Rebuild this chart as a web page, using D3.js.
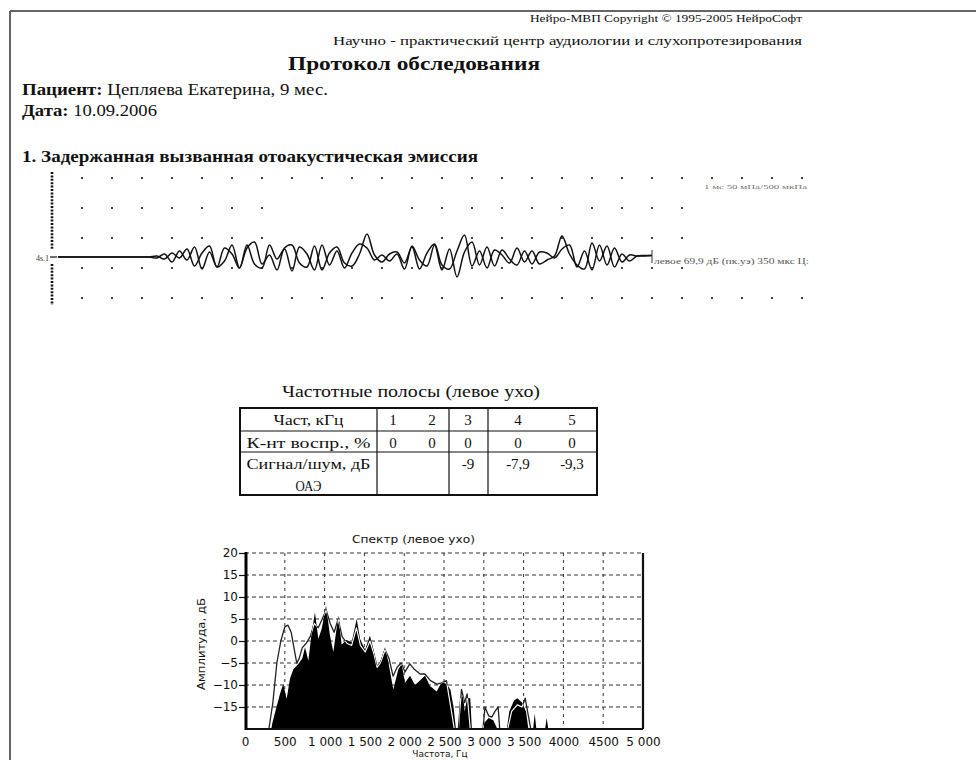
<!DOCTYPE html>
<html><head><meta charset="utf-8">
<script src="https://cdn.jsdelivr.net/npm/d3@7"></script>
<style>html,body{margin:0;padding:0;background:#fff;}svg{display:block}</style>
</head><body>
<svg id="page" width="976" height="760"></svg>
<script>
// ---------- report text ----------
const headerCopyright = "Нейро-МВП Copyright © 1995-2005 НейроСофт";
const headerCenter = "Научно - практический центр аудиологии и слухопротезирования";
const reportTitle = "Протокол обследования";
const patientLabel = "Пациент:";
const patientName = " Цепляева Екатерина, 9 мес.";
const dateLabel = "Дата:";
const examDate = " 10.09.2006";
const sectionTitle = "1. Задержанная вызванная отоакустическая эмиссия";

// ---------- TEOAE waveform (ms, two buffers, relative units) ----------
const waveScaleNote = "1 мс 50 мПа/500 мкПа";
const waveChannelLabel = "4s.1";
const waveInfo = "левое 69,9 дБ (пк.уэ) 350 мкс Ц:";
const waveLeadMs = [0.2, 3.0];
const waveStartMs = 3.25, waveStepMs = 0.25;
const waveBufferA = [0.0, 0.1, -0.2, 0.4, -0.1, 0.8, -0.9, 0.4, 1.1, -1.0, -0.4, 1.2, -1.1, 0.9, 1.5, -0.7,
  0.2, -1.3, 0.9, 1.2, -0.6, -1.0, 1.1, -1.3, 0.4, 1.0, -0.6, -0.9, 0.3, 2.3, 0.2, -0.5, 0.3, 0.5, -0.6,
  1.0, -1.2, 0.4, 1.3, -0.8, -1.2, 0.6, 2.2, -0.9, 0.6, -1.1, 0.7, 0.2, -0.6, 0.9, -0.5, 0.6, -0.7, -0.3,
  0.1, 2.1, 0.3, -0.8, -1.2, 1.4, -0.4, 1.1, -1.0, 0.3, -0.4, 0.1, 0.15, 0.15];
const waveBufferB = [0.0, -0.1, 0.3, -0.5, 0.6, -0.3, 1.0, -1.2, 0.5, -1.0, 0.9, 0.3, -1.1, 1.2, -0.7, -1.1,
  1.2, -0.2, 0.8, -1.4, 1.0, 0.3, -1.3, 1.2, -0.8, 0.6, -1.1, 0.4, 1.3, 0.9, -0.3, 0.2, -0.4, 0.3, -1.2,
  1.1, -0.3, -0.9, 1.2, -1.3, 0.8, -2.0, 0.5, 1.5, -0.8, 1.0, -0.9, 0.7, -0.2, -0.8, 0.6, -0.7, 0.5, 0.4,
  -0.1, 0.8, 1.2, -1.0, 0.6, -1.3, 1.2, -0.8, 0.9, -0.5, 0.2, 0.1, 0.1, 0.15];
// dot grid: columns (ms) present on each row
const gridRowCols = [
  d3.range(1, 26),
  d3.range(1, 8).concat(d3.range(12, 22)),
  d3.range(1, 8).concat(d3.range(12, 22)),
  d3.range(1, 22),
  d3.range(1, 26)
];

// ---------- frequency bands table ----------
const bandTitle = "Частотные полосы (левое ухо)";
const bandRowLabels = [["Част, кГц"], ["К-нт воспр., %"], ["Сигнал/шум, дБ", "ОАЭ"]];
const bandKHz = [1, 2, 3, 4, 5];
const bandReproducibility = [0, 0, 0, 0, 0];
const bandSignalNoise = [null, null, -9, -7.9, -9.3];

// ---------- spectrum ----------
const spectrumTitle = "Спектр (левое ухо)";
const spectrumXLabel = "Частота, Гц";
const spectrumYLabel = "Амплитуда, дБ";
const spectrumFreqTicks = [0, 500, 1000, 1500, 2000, 2500, 3000, 3500, 4000, 4500, 5000];
const spectrumFreqLabels = ["0", "500", "1 000", "1 500", "2 000", "2 500", "3 000", "3 500", "4000", "4500", "5 000"];
const spectrumDbTicks = [-15, -10, -5, 0, 5, 10, 15, 20];
// [Hz, dB] — response spectrum (filled)
const spectrumSignal = [[330,-20],[345,-18.5],[400,-14.7],[440,-12],[481,-9.8],[523,-13.2],[565,-8.6],
  [607,-6.4],[670,-5.2],[720,-4],[754,-1.4],[796,-4.5],[838,2.0],[879,6.5],[921,0.5],[963,2.7],[1018,8.0],
  [1068,1.2],[1110,-2.5],[1173,5.8],[1214,-0.8],[1277,0.2],[1340,-0.3],[1403,5.0],[1445,0.5],[1508,-2.0],
  [1570,1.2],[1612,-1.8],[1654,-5.5],[1696,-5.0],[1759,-1.4],[1801,-4.8],[1863,-11],[1926,-6.4],
  [1968,-5.2],[2010,-9.5],[2073,-7.9],[2136,-10.0],[2198,-9.0],[2261,-7.9],[2324,-10.2],[2408,-11.5],
  [2470,-9.4],[2533,-9.8],[2580,-11],[2620,-15],[2650,-20],[2690,-20],[2700,-13],[2740,-12.5],[2760,-16],
  [2790,-13],[2830,-13],[2850,-20],[2980,-20],[3010,-18.5],[3060,-17.5],[3120,-18],[3170,-20],[3290,-20],
  [3320,-16],[3380,-13.5],[3420,-13],[3480,-14],[3530,-16],[3560,-20],[3620,-20],[3640,-16.5],[3660,-20],
  [3770,-20],[3790,-17.5],[3810,-20]];
// [Hz, dB] — noise spectrum (line)
const spectrumNoise = [[300,-20],[350,-14],[400,-5],[450,0],[500,3.2],[540,3.6],[580,2],[620,-2],[650,-5],
  [680,-4],[720,-1.5],[770,-0.5],[820,1],[870,4],[920,3],[970,5],[1020,7],[1070,4],[1120,2],[1170,5],
  [1220,1],[1280,-0.5],[1340,-1],[1400,3],[1450,-1],[1510,-2.5],[1570,0],[1620,-3],[1660,-6],[1700,-5],
  [1760,-2],[1810,-4],[1860,-8],[1910,-6],[1960,-5],[2010,-7],[2070,-5.2],[2130,-6.5],[2200,-7.5],
  [2260,-7.5],[2330,-9],[2410,-9.8],[2470,-9.5],[2530,-9],[2580,-14.5],[2630,-20],[2680,-20],[2720,-11],
  [2760,-14],[2790,-12],[2830,-20],[2990,-20],[3015,-15],[3060,-17],[3100,-17.3],[3140,-16],[3180,-15],
  [3200,-20],[3300,-20],[3350,-16],[3420,-14.5],[3480,-15],[3520,-13],[3560,-17],[3590,-20]];

// ---------- drawing ----------
const svg = d3.select("#page");
const SERIF = "'Liberation Serif','Times New Roman',serif";
const SANS = "'DejaVu Sans',Verdana,sans-serif";

function label(g, x, y, str, o = {}) {
  const t = g.append("text").attr("x", x).attr("y", y)
    .attr("font-family", o.family || SERIF).attr("font-size", o.size || 14)
    .attr("font-weight", o.weight || "normal").attr("fill", o.fill || "#111")
    .attr("text-anchor", o.anchor || "start").text(str);
  if (o.len) t.attr("textLength", o.len).attr("lengthAdjust", "spacingAndGlyphs");
  return t;
}

// page frame
svg.append("line").attr("x1", 10).attr("x2", 976).attr("y1", 11).attr("y2", 11)
  .attr("stroke", "#666").attr("stroke-width", 2);
svg.append("line").attr("x1", 10).attr("x2", 10).attr("y1", 11).attr("y2", 760)
  .attr("stroke", "#666").attr("stroke-width", 2);

// header
label(svg, 802, 22, headerCopyright, {size: 11, anchor: "end", len: 272});
label(svg, 802, 45, headerCenter, {size: 13, anchor: "end", len: 469});
label(svg, 288, 70, reportTitle, {size: 18, weight: "bold", len: 252});
const pt = label(svg, 22, 95, "", {size: 17, len: 306});
pt.append("tspan").attr("font-weight", "bold").text(patientLabel);
pt.append("tspan").text(patientName);
const dt = label(svg, 22, 116, "", {size: 17, len: 135});
dt.append("tspan").attr("font-weight", "bold").text(dateLabel);
dt.append("tspan").text(examDate);
label(svg, 22, 162, sectionTitle, {size: 17, weight: "bold", len: 456});

// ----- waveform panel -----
const xWave = d3.scaleLinear().domain([0, 25]).range([52, 802]);
const yWave = d3.scaleLinear().domain([-3, 3]).range([287, 227]);
const yRow = d3.scaleLinear().domain([0, 4]).range([178, 298]);
const wg = svg.append("g");
gridRowCols.forEach((cols, r) => {
  wg.selectAll(null).data(cols).join("rect")
    .attr("x", c => xWave(c) - 1).attr("y", yRow(r) - 1)
    .attr("width", 2).attr("height", 2).attr("fill", "#444");
});
// channel ruler
[[172, 250], [264, 305]].forEach(([a, b]) => {
  wg.append("line").attr("x1", 52).attr("x2", 52).attr("y1", a).attr("y2", b)
    .attr("stroke", "#111").attr("stroke-width", 2.6).attr("stroke-dasharray", "2,1.4");
});
wg.append("line").attr("x1", 50).attr("x2", 57).attr("y1", yWave(0)).attr("y2", yWave(0))
  .attr("stroke", "#111").attr("stroke-width", 1.2);
label(wg, 49, 261, waveChannelLabel, {size: 8, anchor: "end", fill: "#333"});
label(wg, 704, 189, waveScaleNote, {size: 7, fill: "#777", len: 103});

const waveTimes = waveLeadMs.concat(waveBufferA.map((_, i) => waveStartMs + waveStepMs * i));
const waveLine = d3.line().x(d => xWave(d.t)).y(d => yWave(d.v)).curve(d3.curveCatmullRom);
[waveBufferA, waveBufferB].forEach(buf => {
  const pts = waveLeadMs.map(t => ({t, v: 0})).concat(buf.map((v, i) => ({t: waveTimes[i + 2], v})));
  wg.append("path").attr("d", waveLine(pts)).attr("fill", "none")
    .attr("stroke", "#111").attr("stroke-width", 1.5).attr("stroke-linejoin", "round");
});
wg.append("line").attr("x1", xWave(20)).attr("x2", xWave(20)).attr("y1", 250).attr("y2", 263)
  .attr("stroke", "#333").attr("stroke-width", 1);
label(wg, 654, 264, waveInfo, {size: 8, fill: "#555", len: 155});

// ----- frequency band table -----
const tg = svg.append("g");
label(tg, 282, 397, bandTitle, {size: 16, len: 258});
const tbl = {x0: 240, x1: 597, rows: [408, 431, 452, 495]};
const colCenters = [393, 432, 468, 518, 572];
tg.append("rect").attr("x", tbl.x0).attr("y", tbl.rows[0]).attr("width", tbl.x1 - tbl.x0)
  .attr("height", tbl.rows[3] - tbl.rows[0]).attr("fill", "none").attr("stroke", "#111").attr("stroke-width", 2);
[tbl.rows[1], tbl.rows[2]].forEach(y => tg.append("line").attr("x1", tbl.x0).attr("x2", tbl.x1)
  .attr("y1", y).attr("y2", y).attr("stroke", "#111").attr("stroke-width", 1.2));
[377, 449, 488].forEach(x => tg.append("line").attr("x1", x).attr("x2", x)
  .attr("y1", tbl.rows[0]).attr("y2", tbl.rows[3]).attr("stroke", "#111").attr("stroke-width", 1.2));
const rowLabelLens = [[70], [124], [124, 26]];
bandRowLabels.forEach((lines, r) => {
  lines.forEach((s, k) => label(tg, 308.5, tbl.rows[r] + 17 + k * 22, s,
    {size: 15, anchor: "middle", len: rowLabelLens[r][k]}));
});
const fmt = v => v == null ? "" : String(v).replace(".", ",");
[bandKHz, bandReproducibility, bandSignalNoise].forEach((vals, r) => {
  tg.selectAll(null).data(vals).join("text")
    .attr("x", (d, i) => colCenters[i]).attr("y", tbl.rows[r] + 17)
    .attr("font-family", SERIF).attr("font-size", 15).attr("fill", "#111")
    .attr("text-anchor", "middle").text(fmt);
});

// ----- spectrum chart -----
const sx = d3.scaleLinear().domain([0, 5000]).range([245, 643]);
const sy = d3.scaleLinear().domain([-20, 20]).range([729, 553]);
const sg = svg.append("g");
label(sg, 352, 543, spectrumTitle, {family: SANS, size: 11, len: 123});
// grid
sg.selectAll(null).data(spectrumFreqTicks.slice(1, -1)).join("line")
  .attr("x1", d => sx(d)).attr("x2", d => sx(d)).attr("y1", sy(20)).attr("y2", sy(-20))
  .attr("stroke", "#333").attr("stroke-width", 1).attr("stroke-dasharray", "3,4");
sg.selectAll(null).data(spectrumDbTicks).join("line")
  .attr("x1", sx(0)).attr("x2", sx(5000)).attr("y1", d => sy(d)).attr("y2", d => sy(d))
  .attr("stroke", "#333").attr("stroke-width", 1.2).attr("stroke-dasharray", "4,3");
// response (filled) and noise line: dark over paper, light inside the response
const area = d3.area().x(d => sx(d[0])).y0(sy(-20)).y1(d => sy(d[1]));
const defs = sg.append("defs");
defs.append("clipPath").attr("id", "plotClip").append("rect")
  .attr("x", sx(0)).attr("y", sy(20)).attr("width", sx(5000) - sx(0)).attr("height", sy(-20) - sy(20));
defs.append("clipPath").attr("id", "signalClip").append("path").attr("d", area(spectrumSignal));
sg.append("path").attr("clip-path", "url(#plotClip)").attr("d", area(spectrumSignal)).attr("fill", "#000");
const nline = d3.line().x(d => sx(d[0])).y(d => sy(d[1]));
sg.append("path").attr("clip-path", "url(#plotClip)").attr("d", nline(spectrumNoise))
  .attr("fill", "none").attr("stroke", "#222").attr("stroke-width", 1.3).attr("stroke-linejoin", "round");
sg.append("path").attr("clip-path", "url(#signalClip)").attr("d", nline(spectrumNoise))
  .attr("fill", "none").attr("stroke", "#fff").attr("stroke-width", 1.1).attr("stroke-linejoin", "round");
// axes
const yAxis = d3.axisLeft(sy).tickValues(spectrumDbTicks).tickSize(6).tickPadding(1);
const yg = sg.append("g").attr("transform", `translate(${sx(0)},0)`).call(yAxis);
yg.select(".domain").remove();
yg.selectAll("text").attr("font-family", SANS).attr("font-size", 12).attr("fill", "#111");
yg.selectAll("line").attr("stroke", "#111").attr("stroke-width", 1.2);
const xAxis = d3.axisBottom(sx).tickValues(spectrumFreqTicks)
  .tickFormat((d, i) => spectrumFreqLabels[i]).tickSize(0).tickPadding(8);
const xg = sg.append("g").attr("transform", `translate(0,${sy(-20)})`).call(xAxis);
xg.select(".domain").remove();
xg.selectAll("text").attr("font-family", SANS).attr("font-size", 12).attr("fill", "#111");
sg.append("line").attr("x1", sx(0)).attr("x2", sx(5000)).attr("y1", sy(-20)).attr("y2", sy(-20))
  .attr("stroke", "#111").attr("stroke-width", 2.2);
sg.append("line").attr("x1", sx(5000)).attr("x2", sx(5000)).attr("y1", sy(20)).attr("y2", sy(-20))
  .attr("stroke", "#111").attr("stroke-width", 2.2);
sg.append("line").attr("x1", sx(0) + 1).attr("x2", sx(0) + 1).attr("y1", sy(20) - 1).attr("y2", sy(-20) + 1)
  .attr("stroke", "#000").attr("stroke-width", 3);
label(sg, 0, 0, spectrumYLabel, {family: SANS, size: 11, anchor: "middle", len: 92})
  .attr("transform", "translate(205,644) rotate(-90)");
label(sg, 440, 757, spectrumXLabel, {family: SANS, size: 9, anchor: "middle"});
</script>
</body></html>
